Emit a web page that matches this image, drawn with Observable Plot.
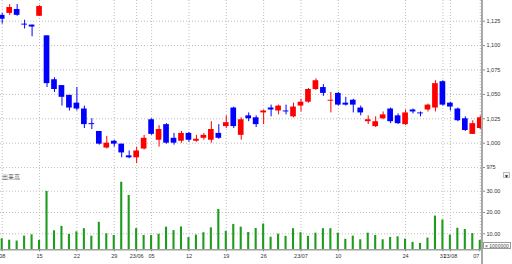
<!DOCTYPE html>
<html><head><meta charset="utf-8">
<script src="https://cdn.jsdelivr.net/npm/d3@7"></script>
<script src="https://cdn.jsdelivr.net/npm/@observablehq/plot@0.6"></script>
<style>
html,body{margin:0;padding:0;background:#fff;}
#wrap{position:relative;width:512px;height:264px;overflow:hidden;font-family:"Liberation Sans",Arial,sans-serif;}
#price{position:absolute;left:0;top:0;}
#vol{position:absolute;left:0;top:170px;}
#axisline{position:absolute;left:481px;top:0;width:2px;height:264px;background:#a8a8a8;}
#vlabel{position:absolute;left:2px;top:173px;font-family:"Noto Sans CJK JP",sans-serif;font-size:6px;color:#555;line-height:7px;}
#unit{position:absolute;left:483px;top:242px;width:28px;border:1px solid #9a9a9a;background:#fff;font-size:5px;line-height:6px;color:#444;white-space:nowrap;overflow:hidden;padding-left:1px;box-sizing:border-box;height:7px;}
#dd{position:absolute;left:503px;top:172px;width:7px;height:6px;border:1px solid #bbb;background:#f4f4f4;font-size:5px;line-height:6px;text-align:center;color:#222;box-sizing:border-box;}
</style>
</head><body>
<div id="wrap">
  <div id="price"></div>
  <div id="vol"></div>
  <div id="axisline"></div>
  <div id="vlabel">出来高</div>
  <div id="dd">▼</div>
  <div id="unit">× 1000000</div>
</div>
<script>
// Daily OHLC (yen), May 8 – Aug 7 2023 (65 trading days)
const open = [
  1131,1133,1137,1122,1121, 1130,1110,1065,1059,1049,
  1041,1035,1020,1012,995,  1002,999,987,985,994,
  1024,1003,1019,1005,1002, 1010,1002,1005,1003,1010,
  1017,1036,1008,1028,1026, 1031,1036,1033,1033,1027,
  1038,1042,1055,1057,1043, 1051,1041,1044,1036,1022,
  1017,1025,1035,1028,1019, 1034,1031,1034,1036,1063,
  1041,1035,1025,1009,1015
];
const close = [
  1127,1139,1131,1121,1119, 1140,1061,1055,1047,1036,
  1035,1019,1019,999,1000,  999,990,985,992,1005,
  1009,1014,1000,1000,1010, 1003,1004,1008,1014,1005,
  1021,1017,1024,1025,1019, 1033,1034,1038,1032,1037,
  1042,1055,1064,1051,1044, 1039,1039,1039,1031,1024,
  1022,1029,1022,1020,1031, 1032,1030,1039,1061,1039,
  1037,1023,1013,1020,1026
];
const high = [
  1133,1142,1142,1126,1121, 1141,1110,1067,1059,1049,
  1057,1038,1025,1012,1007, 1003,999,992,996,1008,
  1025,1018,1020,1010,1012, 1011,1008,1010,1022,1019,
  1028,1037,1026,1031,1028, 1034,1039,1039,1039,1041,
  1045,1056,1066,1060,1052, 1052,1047,1045,1038,1028,
  1027,1032,1036,1030,1034, 1035,1032,1040,1064,1064,
  1042,1036,1027,1023,1028
];
const low = [
  1122,1131,1130,1117,1109, 1130,1057,1052,1038,1033,
  1033,1015,1014,998,994,   996,985,984,979,993,
  1008,996,999,998,1000,    1001,1001,1003,1000,1004,
  1015,1015,1003,1022,1016, 1019,1027,1029,1029,1026,
  1032,1041,1054,1048,1031, 1038,1038,1031,1028,1019,
  1016,1024,1020,1019,1018, 1030,1027,1032,1032,1038,
  1033,1022,1012,1009,1014
];
// Volume (x 1,000,000 shares)
const volume = [
  7.7,7.0,6.6,8.9,9.5,   6.9,29.9,11.4,13.5,9.7,
  10.9,12.4,8.9,15.4,10.0, 9.2,34.2,28.0,12.4,9.2,
  9.2,9.8,13.1,11.5,13.2,  8.2,9.4,10.5,12.8,21.4,
  11.1,14.4,13.1,10.6,12.5, 14.6,8.4,9.8,8.8,12.4,
  10.5,8.8,10.3,12.4,12.4, 10.3,7.4,8.9,7.2,10.3,
  9.2,7.2,8.3,8.6,7.5,   6.0,5.5,8.0,18.3,16.5,
  9.4,12.6,12.0,10.1,6.9
];
// Date tick labels (trading-day index -> label)
const tickIdx    = [0,5,10,15,18,20,25,30,35,40,45,54,59,60,64];
const tickLabels = ["08","15","22","29","23/06","05","12","19","26","23/07","10","24","31","23/08","07"];
const priceTicks = [975,1000,1025,1050,1075,1100,1125];
const volTicks   = [10,20,30];

const rows = d3.range(open.length).map(i => ({
  i, o: open[i], c: close[i], h: high[i], l: low[i], v: volume[i],
  col: close[i] >= open[i] ? "#ff0000" : "#0000ff"
}));

const xDomain = [-0.228, 64.3];
const gridStyle = {stroke: "#bdbdbd", strokeDasharray: "1,2", strokeWidth: 1};
const fontStyle = {fontFamily: "'Liberation Sans', Arial, sans-serif", fontSize: "5.5px", color: "#333", background: "transparent", overflow: "visible"};
const labelOf = d => tickLabels[tickIdx.indexOf(d)];
const lastIdx = tickIdx[tickIdx.length - 1];

const price = Plot.plot({
  width: 512, height: 170,
  marginLeft: 0, marginRight: 30, marginTop: 0, marginBottom: 0,
  x: {type: "linear", domain: xDomain, axis: null, label: null},
  y: {domain: [972, 1146.2], label: null},
  color: {type: "identity"},
  style: fontStyle,
  marks: [
    Plot.ruleY(priceTicks, gridStyle),
    Plot.ruleX(tickIdx, gridStyle),
    Plot.ruleX(rows, {x: "i", y1: "l", y2: "h", stroke: "col", strokeWidth: 1}),
    Plot.rect(rows, {x1: d => d.i - 0.38, x2: d => d.i + 0.38, y1: "o", y2: "c", fill: "col"}),
    Plot.axisY(priceTicks, {anchor: "right", tickSize: 2, tickPadding: 2, stroke: "#888", tickFormat: d3.format(","), label: null})
  ]
});
document.getElementById("price").appendChild(price);

const vMin = 2.49;
const vol = Plot.plot({
  width: 512, height: 94,
  marginLeft: 0, marginRight: 30, marginTop: 0, marginBottom: 14.7,
  x: {type: "linear", domain: xDomain, label: null},
  y: {domain: [vMin, 39.7], label: null},
  style: fontStyle,
  marks: [
    Plot.ruleY(volTicks, gridStyle),
    Plot.ruleX(tickIdx, gridStyle),
    Plot.rectY(rows, {x1: d => d.i - 0.14, x2: d => d.i + 0.14, y: "v", fill: "#1e9c1e", clip: true}),
    Plot.ruleY([vMin], {stroke: "#a0a0a0", strokeWidth: 1.6}),
    Plot.axisY(volTicks, {anchor: "right", tickSize: 2, tickPadding: 2, stroke: "#888", tickFormat: d3.format(".2f"), label: null}),
    Plot.axisX(tickIdx.slice(0, -1), {anchor: "bottom", tickSize: 2, tickPadding: 2, stroke: "#888",
      tickFormat: labelOf, label: null}),
    Plot.axisX([lastIdx], {anchor: "bottom", tickSize: 2, tickPadding: 2, stroke: "#888",
      tickFormat: labelOf, textAnchor: "end", dx: -1, label: null})
  ]
});
document.getElementById("vol").appendChild(vol);
</script>
</body></html>
